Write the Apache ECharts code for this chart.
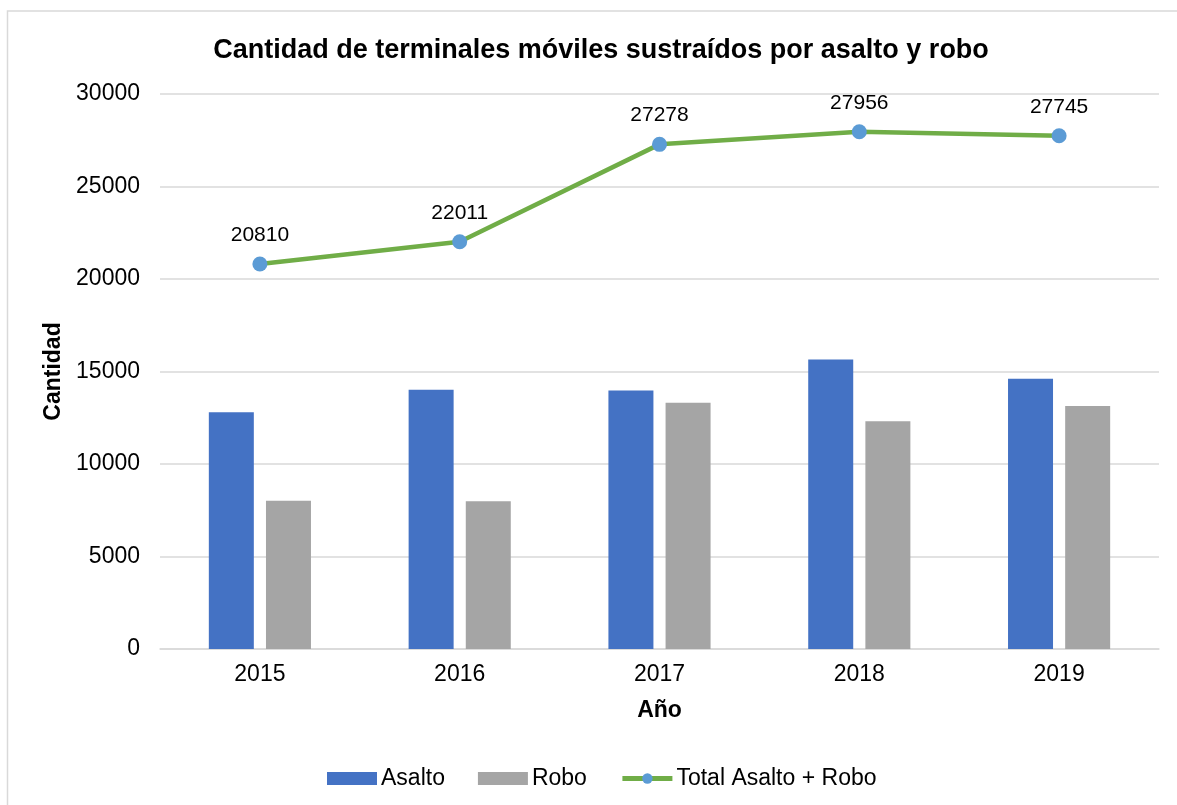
<!DOCTYPE html>
<html>
<head>
<meta charset="utf-8">
<script src="https://cdn.jsdelivr.net/npm/echarts@6/dist/echarts.min.js"></script>
<style>
  html,body{margin:0;padding:0;background:#fff;}
  #chart{width:1177px;height:805px;}
</style>
</head>
<body>
<div id="chart"></div>
<script>
// datos
var years = ['2015', '2016', '2017', '2018', '2019'];
var asalto = [12800, 14020, 13970, 15650, 14610];
var robo = [8010, 7991, 13308, 12306, 13135];
var total = [20810, 22011, 27278, 27956, 27745];

var font = 'Liberation Sans, Arial, sans-serif';
var myChart = echarts.init(document.getElementById('chart'));
var option = {
    backgroundColor: '#fff',
    textStyle: { fontFamily: font },
    graphic: [
        {
            // marco del grafico
            type: 'rect',
            shape: { x: 7.5, y: 11, width: 1200, height: 820 },
            style: { fill: 'none', stroke: '#d9d9d9', lineWidth: 1.5 },
            silent: true
        }
    ],
    title: {
        text: 'Cantidad de terminales móviles sustraídos por asalto y robo',
        left: 596,
        textAlign: 'center',
        top: 32,
        textStyle: { fontSize: 27, fontWeight: 'bold', color: '#000', fontFamily: font }
    },
    legend: {
        top: 762,
        left: 322,
        itemGap: 33,
        itemWidth: 50,
        itemHeight: 13,
        textStyle: { fontSize: 23, color: '#000', fontFamily: font, padding: [0, 0, 0, -1] },
        data: [
            { name: 'Asalto', icon: 'rect' },
            { name: 'Robo', icon: 'rect' },
            { name: 'Total Asalto + Robo', lineStyle: { width: 5, color: '#70ad47' } }
        ]
    },
    grid: { left: 160, right: 18, top: 94, bottom: 156 },
    xAxis: {
        type: 'category',
        data: years,
        name: 'Año',
        nameLocation: 'middle',
        nameGap: 50,
        nameTextStyle: { fontSize: 23, fontWeight: 'bold', color: '#000' },
        axisTick: { show: false },
        axisLine: { lineStyle: { color: '#d9d9d9', width: 1.5 } },
        axisLabel: { fontSize: 23, color: '#000', margin: 14 }
    },
    yAxis: {
        type: 'value',
        min: 0,
        max: 30000,
        interval: 5000,
        name: 'Cantidad',
        nameLocation: 'middle',
        nameGap: 95,
        nameTextStyle: { fontSize: 23, fontWeight: 'bold', color: '#000' },
        axisLine: { show: false },
        axisTick: { show: false },
        axisLabel: { fontSize: 23, color: '#000', margin: 20, formatter: function (v) { return String(v); } },
        splitLine: { lineStyle: { color: '#d9d9d9', width: 1.5 } }
    },
    series: [
        {
            name: 'Asalto',
            type: 'bar',
            data: asalto,
            barWidth: 45,
            barGap: '27%',
            itemStyle: { color: '#4472c4' }
        },
        {
            name: 'Robo',
            type: 'bar',
            data: robo,
            barWidth: 45,
            itemStyle: { color: '#a5a5a5' }
        },
        {
            name: 'Total Asalto + Robo',
            type: 'line',
            data: total,
            symbol: 'circle',
            symbolSize: 15,
            lineStyle: { color: '#70ad47', width: 4.5 },
            itemStyle: { color: '#5b9bd5' },
            label: {
                show: true,
                position: 'top',
                distance: 11,
                fontSize: 21,
                color: '#000'
            },
            z: 5
        }
    ]
};
myChart.setOption(option);
</script>
</body>
</html>
